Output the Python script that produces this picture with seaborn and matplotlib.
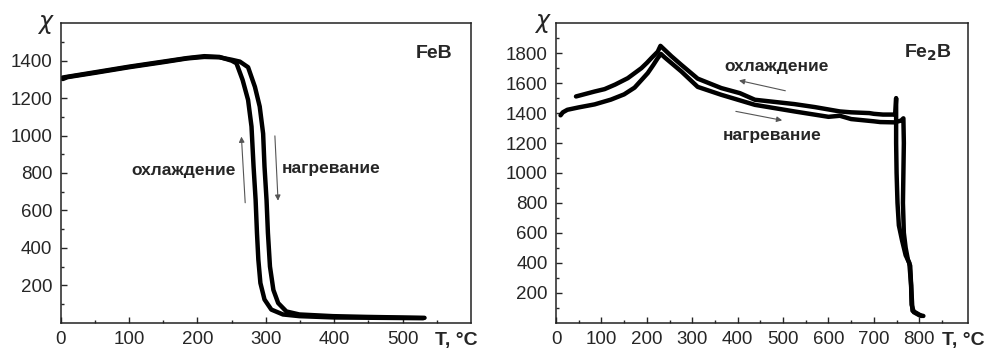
import matplotlib
matplotlib.use("Agg")
import matplotlib.pyplot as plt
import seaborn as sns
import pandas as pd

# FeB: heating and cooling branches (T in C, chi)
feb_heat_t = [3, 10, 50, 100, 150, 185, 210, 232, 250, 262, 274, 284, 291, 296, 298, 301, 303, 306, 311, 318, 330, 349, 398, 447, 532]
feb_heat_chi = [1302, 1312, 1335, 1365, 1392, 1412, 1420, 1418, 1405, 1395, 1365, 1260, 1155, 1010, 835, 655, 480, 300, 175, 105, 60, 44, 35, 31, 26]
feb_cool_t = [530, 400, 349, 325, 308, 298, 292, 289, 287, 285, 282, 279, 274, 266, 257, 250, 232, 210, 185, 150, 100, 50, 3]
feb_cool_chi = [24, 28, 35, 44, 70, 124, 212, 337, 479, 657, 835, 1048, 1190, 1297, 1386, 1400, 1420, 1424, 1414, 1395, 1368, 1338, 1310]

# Fe2B
fe2b_heat_t = [10, 15, 25, 50, 85, 121, 150, 173, 188, 202, 214, 224, 231, 240, 276, 312, 364, 438, 525, 600, 625, 650, 700, 714, 745, 760, 765,
               766, 765, 764, 766, 770, 775, 780, 782, 783, 788, 800, 809]
fe2b_heat_chi = [1385, 1405, 1422, 1438, 1458, 1490, 1525, 1570, 1620, 1667, 1720, 1767, 1795, 1770, 1678, 1575, 1522, 1455, 1411, 1375, 1382, 1360, 1345, 1340, 1338, 1350, 1365,
                 1200, 1000, 800, 600, 500, 420, 380, 250, 120, 70, 50, 45]
fe2b_cool_t = [805, 785, 782, 778, 770, 762, 755, 752, 750, 749, 749, 749, 747, 720, 700, 690, 650, 625, 570, 525, 438, 405, 364,
               312, 276, 254, 230, 224, 210, 200, 188, 158, 130, 107, 85, 44]
fe2b_cool_chi = [45, 80, 250, 400, 450, 550, 650, 800, 1000, 1200, 1380, 1500, 1390, 1390, 1395, 1400, 1405, 1411, 1440, 1460, 1489, 1533, 1567,
                 1630, 1722, 1780, 1849, 1810, 1767, 1735, 1700, 1633, 1590, 1560, 1544, 1511]

sns.set_style("ticks")
plt.rcParams["font.family"] = ["Liberation Sans", "DejaVu Sans"]

fig = plt.figure(figsize=(9.95, 3.5), dpi=100)
ax1 = fig.add_axes([0.061, 0.078, 0.4124, 0.8556])
ax2 = fig.add_axes([0.5588, 0.078, 0.4144, 0.8556])


def draw(ax, ht, hc, ct, cc):
    heat = pd.DataFrame({"T": ht, "chi": hc})
    cool = pd.DataFrame({"T": ct, "chi": cc})
    sns.lineplot(data=heat, x="T", y="chi", sort=False, estimator=None, color="black", lw=3.2, ax=ax)
    sns.lineplot(data=cool, x="T", y="chi", sort=False, estimator=None, color="black", lw=3.2, ax=ax)
    ax.set_xlabel("")
    ax.set_ylabel("")
    for s in ax.spines.values():
        s.set_linewidth(1.1)
        s.set_color("#222222")
    ax.tick_params(which="major", direction="in", length=4, width=1, labelsize=13.5, pad=6)
    ax.tick_params(which="minor", direction="in", length=2.5, width=1)


draw(ax1, feb_heat_t, feb_heat_chi, feb_cool_t, feb_cool_chi)
ax1.set_xlim(0, 600)
ax1.set_ylim(0, 1600)
ax1.set_xticks([0, 100, 200, 300, 400, 500])
ax1.set_xticks(range(50, 600, 100), minor=True)
ax1.set_yticks(range(200, 1600, 200))
ax1.set_yticks(range(100, 1600, 200), minor=True)
ax1.text(0.955, 0.9, "FeB", transform=ax1.transAxes, ha="right", va="center", fontsize=14, fontweight="bold")
ax1.text(180, 815, "охлаждение", ha="center", va="center", fontsize=12.5, fontweight="bold")
ax1.text(395, 822, "нагревание", ha="center", va="center", fontsize=12.5, fontweight="bold")
arrow = dict(arrowstyle="-|>", color="#555555", lw=0.8, mutation_scale=8)
ax1.annotate("", xy=(264, 1009), xytext=(270, 626), arrowprops=arrow)
ax1.annotate("", xy=(318, 637), xytext=(313, 1013), arrowprops=arrow)

draw(ax2, fe2b_heat_t, fe2b_heat_chi, fe2b_cool_t, fe2b_cool_chi)
ax2.set_xlim(0, 908)
ax2.set_ylim(0, 2000)
ax2.set_xticks(range(0, 900, 100))
ax2.set_xticks(range(50, 900, 100), minor=True)
ax2.set_yticks(range(200, 2000, 200))
ax2.set_yticks(range(100, 2000, 200), minor=True)
ax2.text(0.96, 0.9, "Fe$_\\mathbf{2}$B", transform=ax2.transAxes, ha="right", va="center", fontsize=14, fontweight="bold")
ax2.text(485, 1711, "охлаждение", ha="center", va="center", fontsize=12.5, fontweight="bold")
ax2.text(477, 1249, "нагревание", ha="center", va="center", fontsize=12.5, fontweight="bold")
ax2.annotate("", xy=(397, 1622), xytext=(511, 1545), arrowprops=arrow)
ax2.annotate("", xy=(504, 1348), xytext=(390, 1415), arrowprops=arrow)

# axis labels placed like the original
fig.text(46 / 995, 1 - 24 / 350, r"$\chi$", ha="center", va="center", fontsize=17)
fig.text(542.5 / 995, 1 - 23.5 / 350, r"$\chi$", ha="center", va="center", fontsize=17)
fig.text(435 / 995, 1 - 340 / 350, "T, °C", ha="left", va="center", fontsize=14, fontweight="bold")
fig.text(942 / 995, 1 - 340 / 350, "T, °C", ha="left", va="center", fontsize=14, fontweight="bold")

fig.savefig("out.png", dpi=100)
